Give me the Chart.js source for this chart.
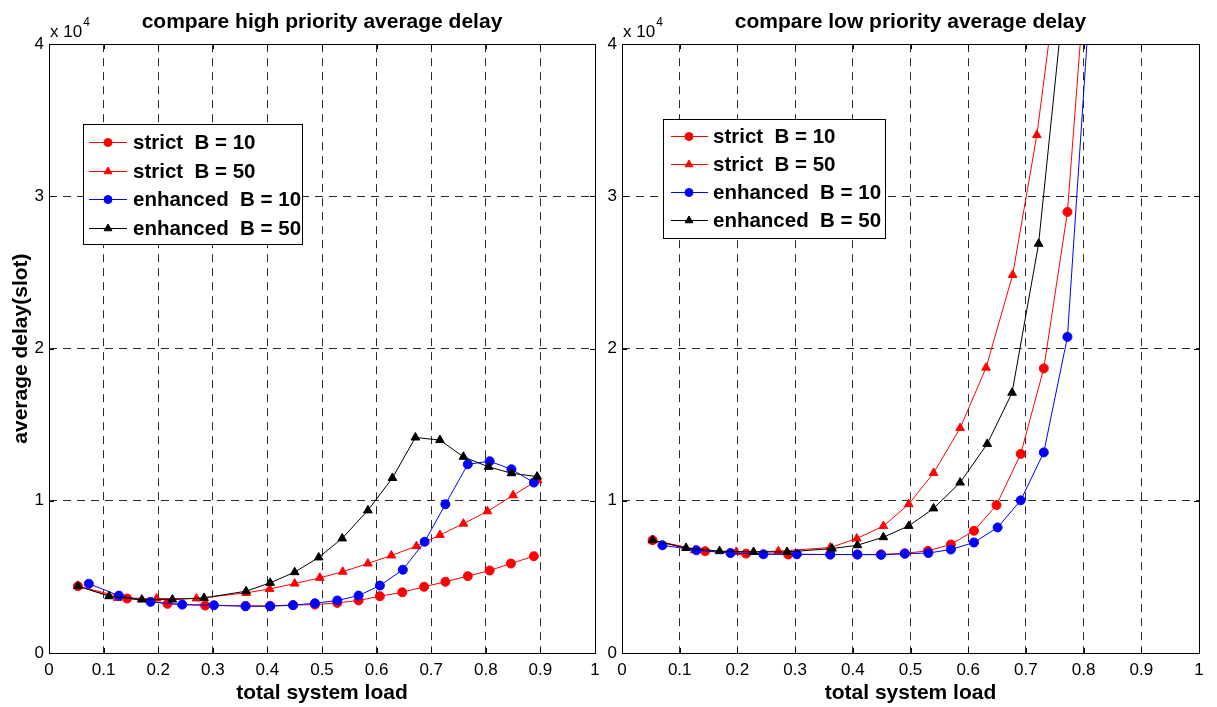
<!DOCTYPE html>
<html><head><meta charset="utf-8">
<script src="https://cdn.jsdelivr.net/npm/chart.js@4.4.1/dist/chart.umd.min.js"></script>
<style>
html,body{margin:0;padding:0;background:#fff;}
#wrap{position:relative;width:1217px;height:707px;overflow:hidden;background:#fff;}
canvas{position:absolute;left:0;top:0;}
</style></head><body>
<div id="wrap"><canvas id="hi" width="1217" height="707"></canvas><canvas id="lo" width="1217" height="707"></canvas></div>
<script>
// ---------- data ----------
const seriesLabels = ['strict  B = 10', 'strict  B = 50', 'enhanced  B = 10', 'enhanced  B = 50'];
const xTickLabels = ['0','0.1','0.2','0.3','0.4','0.5','0.6','0.7','0.8','0.9','1'];
const yTickLabels = ['0','1','2','3','4'];

// high priority
const hiLoadStrict10 = [0.053,0.143,0.217,0.286,0.360,0.405,0.447,0.487,0.528,0.567,0.606,0.647,0.687,0.726,0.767,0.807,0.846,0.888];
const hiDelayStrict10 = [4390,3580,3230,3120,3100,3100,3150,3180,3290,3450,3730,3990,4350,4680,5050,5420,5880,6360];
const hiLoadStrict50 = [0.053,0.126,0.197,0.270,0.361,0.404,0.450,0.496,0.538,0.584,0.627,0.673,0.716,0.759,0.803,0.850,0.895];
const hiDelayStrict50 = [4390,3620,3580,3580,3950,4210,4560,4940,5340,5880,6410,7020,7750,8500,9310,10360,11350];
const hiLoadEnh10 = [0.073,0.128,0.186,0.244,0.302,0.360,0.405,0.447,0.487,0.528,0.567,0.606,0.648,0.688,0.726,0.767,0.807,0.847,0.888];
const hiDelayEnh10 = [4550,3770,3360,3180,3140,3070,3070,3140,3270,3450,3770,4430,5470,7310,9770,12400,12600,12070,11200];
const hiLoadEnh50 = [0.053,0.110,0.170,0.226,0.284,0.361,0.405,0.450,0.494,0.537,0.584,0.629,0.671,0.716,0.759,0.805,0.847,0.894];
const hiDelayEnh50 = [4390,3730,3510,3510,3620,4060,4610,5310,6280,7530,9370,11500,14160,13990,12890,12230,11810,11590];

// low priority
const loLoadStrict10 = [0.053,0.144,0.215,0.288,0.361,0.408,0.449,0.490,0.530,0.570,0.610,0.649,0.691,0.731,0.772,0.812];
const loDelayStrict10 = [7410,6690,6530,6470,6470,6470,6480,6550,6710,7130,8030,9720,13080,18700,28980,49000];
const loLoadStrict50 = [0.053,0.126,0.198,0.271,0.361,0.407,0.453,0.497,0.540,0.586,0.631,0.677,0.719,0.763];
const loDelayStrict50 = [7410,6750,6640,6690,6930,7520,8340,9780,11830,14780,18750,24840,34030,47000];
const loLoadEnh10 = [0.070,0.129,0.188,0.245,0.303,0.361,0.408,0.449,0.490,0.531,0.570,0.610,0.651,0.691,0.731,0.772,0.812];
const loDelayEnh10 = [7080,6750,6570,6490,6490,6470,6470,6450,6520,6570,6800,7260,8250,10030,13180,20770,43600];
const loLoadEnh50 = [0.053,0.111,0.169,0.228,0.286,0.364,0.408,0.453,0.497,0.540,0.586,0.633,0.676,0.722,0.767];
const loDelayEnh50 = [7410,6900,6690,6640,6640,6860,7080,7610,8350,9500,11200,13740,17100,26890,43500];

// ---------- helpers ----------
const FONT = 'Arial, "Liberation Sans", Helvetica, sans-serif';
const pts = (xs, ys) => xs.map((x, i) => ({x: x, y: ys[i]}));
const styles = [
  {color: '#ff0000', pointStyle: 'circle', radius: 4.5, order: 4},
  {color: '#ff0000', pointStyle: 'triangle', radius: 5, order: 3},
  {color: '#0000ff', pointStyle: 'circle', radius: 4.5, order: 2},
  {color: '#000000', pointStyle: 'triangle', radius: 5, order: 1}
];
function makeDatasets(list) {
  return list.map((d, i) => ({
    label: seriesLabels[i],
    data: d,
    borderColor: styles[i].color,
    backgroundColor: styles[i].color,
    pointBackgroundColor: styles[i].color,
    pointBorderColor: styles[i].color,
    pointStyle: styles[i].pointStyle,
    pointRadius: styles[i].radius,
    pointBorderWidth: 1,
    borderWidth: 1,
    tension: 0,
    order: styles[i].order
  }));
}

const decor = {
  id: 'decor',
  afterDraw(chart, args, opts) {
    const ctx = chart.ctx;
    const a = chart.chartArea;
    const xs = chart.scales.x, ys = chart.scales.y;
    ctx.save();
    // inward tick marks
    ctx.strokeStyle = '#000'; ctx.lineWidth = 1; ctx.setLineDash([]);
    ctx.beginPath();
    xs.ticks.forEach(t => {
      const p = Math.round(xs.getPixelForValue(t.value)) + 0.5;
      ctx.moveTo(p, a.bottom); ctx.lineTo(p, a.bottom - 5);
      ctx.moveTo(p, a.top); ctx.lineTo(p, a.top + 5);
    });
    ys.ticks.forEach(t => {
      const p = Math.round(ys.getPixelForValue(t.value)) + 0.5;
      ctx.moveTo(a.left, p); ctx.lineTo(a.left + 5, p);
      ctx.moveTo(a.right, p); ctx.lineTo(a.right - 5, p);
    });
    ctx.stroke();
    // axes box
    ctx.strokeRect(Math.round(a.left) + 0.5, Math.round(a.top) + 0.5, Math.round(a.right - a.left), Math.round(a.bottom - a.top));
    // exponent label
    ctx.fillStyle = '#000';
    ctx.textBaseline = 'alphabetic'; ctx.textAlign = 'left';
    ctx.font = '17px ' + FONT;
    const base = 'x 10';
    ctx.fillText(base, a.left + 1, a.top - 7);
    const w = ctx.measureText(base).width;
    ctx.font = '12px ' + FONT;
    ctx.fillText('4', a.left + 2 + w, a.top - 18);
    // legend
    const L = opts.legend;
    const bx = a.left + L.left, by = a.top + L.top;
    ctx.fillStyle = '#fff';
    ctx.fillRect(bx, by, L.width, L.height);
    ctx.strokeStyle = '#000';
    ctx.strokeRect(Math.round(bx) + 0.5, Math.round(by) + 0.5, L.width, L.height);
    chart.data.datasets.forEach((ds, i) => {
      const y = Math.round(by + L.rowTop + i * L.rowStep) + 0.5;
      ctx.strokeStyle = ds.borderColor; ctx.lineWidth = 1;
      ctx.beginPath(); ctx.moveTo(bx + L.lineX0, y); ctx.lineTo(bx + L.lineX1, y); ctx.stroke();
      ctx.fillStyle = ds.pointBackgroundColor; ctx.strokeStyle = ds.pointBorderColor;
      Chart.helpers.drawPoint(ctx, {pointStyle: ds.pointStyle, radius: ds.pointRadius - 0.5, rotation: 0, borderWidth: 1}, bx + L.markX, y);
      ctx.fillStyle = '#000';
      ctx.font = 'bold 20.5px ' + FONT;
      ctx.textBaseline = 'middle'; ctx.textAlign = 'left';
      ctx.fillText(ds.label, bx + L.textX, y + 1);
    });
    ctx.restore();
  }
};

function makeChart(id, titleText, datasets, pad, yWidth, showYTitle, legend) {
  const gridColor = (c) => {
    const v = c.tick ? c.tick.value : 0;
    return (c.index === 0 || (c.scale && v >= c.scale.max - 1e-9)) ? 'rgba(0,0,0,0)' : '#2b2b2b';
  };
  return new Chart(document.getElementById(id), {
    type: 'line',
    data: {datasets: makeDatasets(datasets)},
    plugins: [decor],
    options: {
      responsive: false, animation: false, events: [],
      layout: {padding: pad},
      plugins: {
        legend: {display: false}, tooltip: {enabled: false},
        title: {display: true, text: titleText, fullSize: false, color: '#000',
                font: {family: FONT, size: 21, weight: 'bold'}, padding: {top: 10, bottom: 9}},
        decor: {legend: legend}
      },
      scales: {
        x: {
          type: 'linear', min: 0, max: 1,
          afterFit: s => { s.height = 54; },
          ticks: {stepSize: 0.1, color: '#000', padding: 7, maxRotation: 0, autoSkip: false,
                  font: {family: FONT, size: 17},
                  callback: (v) => xTickLabels[Math.round(v * 10)]},
          grid: {color: gridColor, drawTicks: false, lineWidth: 1},
          border: {display: false, dash: [8, 6]},
          title: {display: true, text: 'total system load', color: '#000',
                  font: {family: FONT, size: 21, weight: 'bold'}, padding: {top: 0, bottom: 1}}
        },
        y: {
          type: 'linear', min: 0, max: 40000,
          afterFit: s => { s.width = yWidth; },
          ticks: {stepSize: 10000, color: '#000', padding: 5,
                  font: {family: FONT, size: 17},
                  callback: (v) => yTickLabels[Math.round(v / 10000)]},
          grid: {color: gridColor, drawTicks: false, lineWidth: 1},
          border: {display: false, dash: [8, 6]},
          title: {display: showYTitle, text: 'average delay(slot)', color: '#000',
                  font: {family: FONT, size: 21, weight: 'bold'}, padding: {top: 9, bottom: 0}}
        }
      }
    }
  });
}

makeChart('hi', 'compare high priority average delay',
  [pts(hiLoadStrict10, hiDelayStrict10), pts(hiLoadStrict50, hiDelayStrict50),
   pts(hiLoadEnh10, hiDelayEnh10), pts(hiLoadEnh50, hiDelayEnh50)],
  {left: 0, right: 622, top: 0, bottom: 0}, 49, true,
  {left: 34, top: 80, width: 219, height: 120, rowTop: 18, rowStep: 28.5, lineX0: 6, lineX1: 44, markX: 25, textX: 50});

makeChart('lo', 'compare low priority average delay',
  [pts(loLoadStrict10, loDelayStrict10), pts(loLoadStrict50, loDelayStrict50),
   pts(loLoadEnh10, loDelayEnh10), pts(loLoadEnh50, loDelayEnh50)],
  {left: 600, right: 18, top: 0, bottom: 0}, 22, false,
  {left: 41, top: 75, width: 222, height: 119, rowTop: 17, rowStep: 28, lineX0: 8, lineX1: 45, markX: 26, textX: 50});
</script>
</body></html>
